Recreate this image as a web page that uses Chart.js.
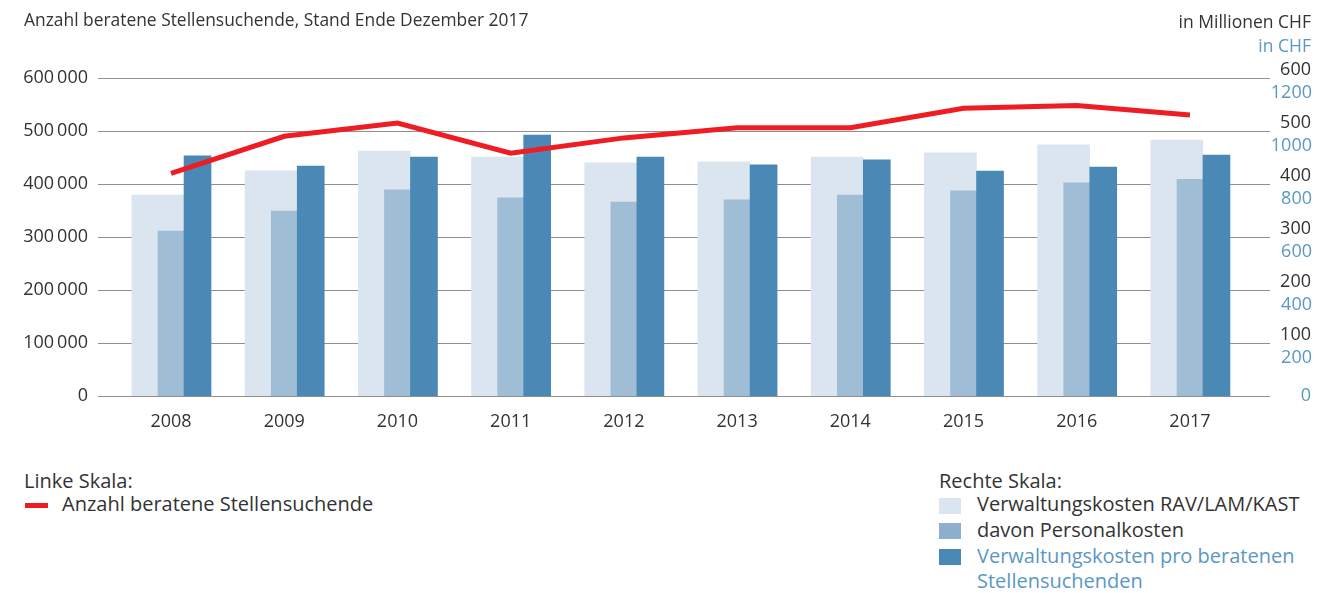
<!DOCTYPE html>
<html>
<head>
<meta charset="utf-8">
<script src="https://cdn.jsdelivr.net/npm/chart.js@4"></script>
<style>
  html, body { margin:0; padding:0; background:#fff; }
  #wrap { position:relative; width:1344px; height:593px; overflow:hidden; font-family:'Open Sans', sans-serif; color:#333; }
  #c { position:absolute; left:0; top:0; }
  .t { position:absolute; white-space:nowrap; line-height:1; }
  .sw { position:absolute; width:22px; height:16px; }
</style>
</head>
<body>
<div id="wrap">
  <canvas id="c" width="1344" height="440"></canvas>
  <div class="t" style="left:24px; top:11px; font-size:17.4px;">Anzahl beratene Stellensuchende, Stand Ende Dezember 2017</div>
  <div class="t" style="right:33px; top:13px; font-size:17.5px; text-align:right;">in Millionen CHF</div>
  <div class="t" style="right:33px; top:37px; font-size:17.5px; text-align:right; color:#5a98c4;">in CHF</div>

  <div class="t" style="left:24px; top:471px; font-size:20px;">Linke Skala:</div>
  <div style="position:absolute; left:25px; top:503px; width:23px; height:5px; background:#ee1d24;"></div>
  <div class="t" style="left:62px; top:494px; font-size:20px;">Anzahl beratene Stellensuchende</div>

  <div class="t" style="left:939px; top:471px; font-size:20px;">Rechte Skala:</div>
  <div class="sw" style="left:939px; top:498px; background:#dbe5f0;"></div>
  <div class="t" style="left:977px; top:494px; font-size:20px;">Verwaltungskosten RAV/LAM/KAST</div>
  <div class="sw" style="left:939px; top:523px; background:#8eaecd;"></div>
  <div class="t" style="left:977px; top:520px; font-size:20px;">davon Personalkosten</div>
  <div class="sw" style="left:939px; top:549px; background:#4a89b5;"></div>
  <div class="t" style="left:977px; top:546px; font-size:20px; color:#5a98c4;">Verwaltungskosten pro beratenen</div>
  <div class="t" style="left:977px; top:571px; font-size:20px; color:#5a98c4;">Stellensuchenden</div>
</div>
<script>
// ---- data ----
const years = [2008, 2009, 2010, 2011, 2012, 2013, 2014, 2015, 2016, 2017];
const stellensuchende = [420000, 490000, 515000, 458000, 487000, 506000, 506000, 543000, 548000, 530000];
const verwaltungskosten = [379, 425, 462, 451, 440, 442, 451, 459, 474, 483];   // Mio CHF
const personalkosten = [311, 349, 389, 374, 366, 370, 379, 387, 402, 409];      // Mio CHF
const kostenProStellensuchenden = [906, 868, 902, 985, 902, 872, 891, 849, 864, 909]; // CHF
const leftTicks = [0, 100000, 200000, 300000, 400000, 500000, 600000];
const rightTicksMio = [100, 200, 300, 400, 500, 600];
const rightTicksCHF = [200, 400, 600, 800, 1000, 1200];

// ---- layout helpers ----
const xMin = 2007.355, xMax = 2017.707;
const unitPx = 113.2;
const shiftLight = 13.15 / unitPx;
const shiftDark = -26.5 / unitPx;

const pts = (vals) => years.map((y, i) => ({x: y, y: vals[i]}));
const fmt = (v) => String(v).replace(/\B(?=(\d{3})+(?!\d))/g, '\u2009');
const TXT = '#333333';
const BLUE = '#5a98c4';

Chart.defaults.font.family = "'Open Sans', sans-serif";
Chart.defaults.font.size = 18;
Chart.defaults.color = TXT;

new Chart(document.getElementById('c'), {
  type: 'bar',
  data: {
    datasets: [
      { type: 'line', label: 'Anzahl beratene Stellensuchende', data: pts(stellensuchende),
        xAxisID: 'x', yAxisID: 'y', borderColor: '#ee1d24', borderWidth: 5, pointRadius: 0,
        tension: 0, fill: false, order: 0, borderJoinStyle: 'miter' },
      { label: 'Verwaltungskosten pro beratenen Stellensuchenden', data: pts(kostenProStellensuchenden),
        xAxisID: 'xc', yAxisID: 'yb', backgroundColor: '#4a89b5', barThickness: 27, grouped: false, order: 1 },
      { label: 'davon Personalkosten', data: pts(personalkosten),
        xAxisID: 'x', yAxisID: 'y1', backgroundColor: '#a0bdd6', barThickness: 26, grouped: false, order: 2 },
      { label: 'Verwaltungskosten RAV/LAM/KAST', data: pts(verwaltungskosten),
        xAxisID: 'xa', yAxisID: 'y1', backgroundColor: '#dbe5f0', barThickness: 52, grouped: false, order: 3 }
    ]
  },
  options: {
    responsive: false,
    animation: false,
    events: [],
    layout: { padding: { left: 0, right: 0, top: 78, bottom: 0 } },
    plugins: { legend: { display: false }, tooltip: { enabled: false }, title: { display: false } },
    scales: {
      x: {
        type: 'linear', position: 'bottom', min: xMin, max: xMax, offset: false,
        grid: { display: false, drawTicks: false }, border: { display: false },
        afterBuildTicks: (ax) => { ax.ticks = years.map(v => ({value: v})); },
        afterFit: (ax) => { ax.height = 44; },
        ticks: { padding: 15, color: TXT, callback: (v) => String(v), font: { size: 18 } }
      },
      xa: { type: 'linear', display: false, offset: false, min: xMin + shiftLight, max: xMax + shiftLight },
      xc: { type: 'linear', display: false, offset: false, min: xMin + shiftDark, max: xMax + shiftDark },
      y: {
        position: 'left', min: 0, max: 600000,
        afterBuildTicks: (ax) => { ax.ticks = leftTicks.map(v => ({value: v})); },
        afterFit: (ax) => { ax.width = 98; },
        grid: { color: '#8f8f8f', lineWidth: 1, drawTicks: false },
        border: { display: false },
        ticks: { padding: 10, color: TXT, callback: (v) => fmt(v) }
      },
      y1: {
        position: 'right', weight: 0, min: 0, max: 600,
        afterBuildTicks: (ax) => { ax.ticks = rightTicksMio.map(v => ({value: v})); },
        afterFit: (ax) => { ax.width = 41; },
        grid: { display: false, drawTicks: false }, border: { display: false },
        ticks: { padding: 0, color: TXT, crossAlign: 'far', labelOffset: -8, callback: (v) => String(v) }
      },
      yz: {
        position: 'right', weight: 1, min: 0, max: 600,
        afterBuildTicks: (ax) => { ax.ticks = [{value: 0}]; },
        afterFit: (ax) => { ax.width = 1; },
        grid: { display: false, drawTicks: false }, border: { display: false },
        ticks: { padding: 0, mirror: true, color: BLUE, crossAlign: 'near', labelOffset: 0, callback: (v) => String(v) }
      },
      yb: {
        position: 'right', weight: 2, min: 0, max: 1200,
        afterBuildTicks: (ax) => { ax.ticks = rightTicksCHF.map(v => ({value: v})); },
        afterFit: (ax) => { ax.width = 32; },
        grid: { display: false, drawTicks: false }, border: { display: false },
        ticks: { padding: 0, mirror: true, color: BLUE, crossAlign: 'near', labelOffset: 15, callback: (v) => String(v) }
      }
    }
  }
});
</script>
</body>
</html>
